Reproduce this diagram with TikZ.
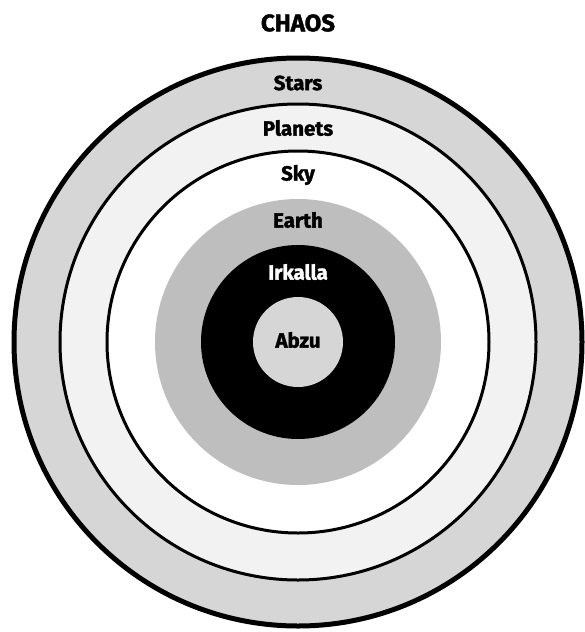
\documentclass[tikz,border=0pt]{standalone}
\usepackage{fontspec}
\setmainfont{Fira Sans}[BoldFeatures={FakeBold=1.6}]
\usepackage{xcolor}
\definecolor{cStars}{HTML}{D6D6D6}
\definecolor{cPlanets}{HTML}{F2F2F2}
\definecolor{cEarth}{HTML}{BEBEBE}
\definecolor{cAbzu}{HTML}{D6D6D6}
\usepackage{tikz}
\tikzset{
  ring-outer/.style={draw=black,line width=5pt},
  ring-line/.style={draw=black,line width=3pt},
  layer-label/.style={font=\fontsize{20.5}{23}\selectfont\bfseries,inner sep=0pt,anchor=center},
  title-label/.style={font=\fontsize{24}{27}\selectfont\bfseries,inner sep=0pt,anchor=center},
}

\begin{document}
\begin{tikzpicture}[x=1pt,y=-1pt]
  \useasboundingbox (0,0) rectangle (584,632);
  \coordinate (ctr) at (298,342);
  % the layers, from the outside in
  \fill[cStars] (ctr) circle (284);
  \draw[ring-outer] (ctr) circle (284);
  \filldraw[fill=cPlanets,ring-line] (ctr) circle (238);
  \filldraw[fill=white,ring-line] (ctr) circle (191);
  \fill[cEarth] (ctr) circle (143);
  \fill[black] (ctr) circle (97);
  \fill[cAbzu] (ctr) circle (45);
  % labels
  \node[title-label] (chaos) at (298,23) {CHAOS};
  \node[layer-label] (stars) at (298,83) {Stars};
  \node[layer-label] (planets) at (298,128) {Planets};
  \node[layer-label] (sky) at (298,175) {Sky};
  \node[layer-label] (earth) at (298,220) {Earth};
  \node[layer-label,text=white] (irkalla) at (298,272) {Irkalla};
  \node[layer-label] (abzu) at (298,340) {Abzu};
\end{tikzpicture}
\end{document}
